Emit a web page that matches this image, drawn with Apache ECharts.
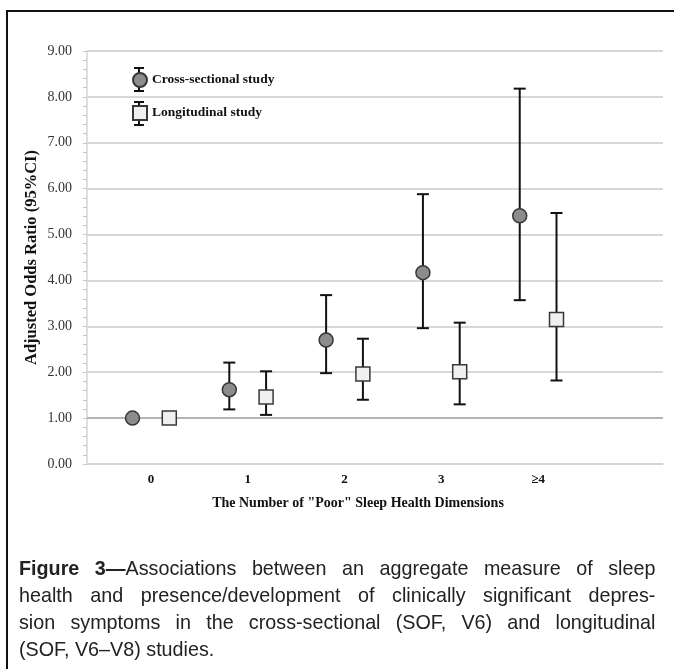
<!DOCTYPE html>
<html>
<head>
<meta charset="utf-8">
<title>Figure 3</title>
<script src="https://cdn.jsdelivr.net/npm/echarts@6/dist/echarts.min.js"></script>
<style>
  html, body { margin: 0; padding: 0; background: #fff; }
  #wrap { position: relative; width: 674px; height: 669px; overflow: hidden; }
  #chart { position: absolute; left: 0; top: 0; width: 674px; height: 669px; }
  #frame { position: absolute; left: 6px; top: 10px; width: 720px; height: 720px;
    border-left: 2px solid #111; border-top: 2px solid #111; }
  /* narrow look of the journal caption: plain sans squeezed horizontally */
  #caption { position: absolute; left: 19px; top: 554px; width: 677px;
    transform: scaleX(0.94); transform-origin: 0 0;
    font-family: "Liberation Sans", Arial, sans-serif; font-size: 21px; line-height: 27px; color: #222; }
  #caption div { text-align: justify; text-align-last: justify; white-space: nowrap; }
  #caption div.last { text-align-last: left; }
</style>
</head>
<body>
<div id="wrap">
  <div id="frame"></div>
  <div id="chart"></div>
  <div id="caption">
    <div><b>Figure 3—</b>Associations between an aggregate measure of sleep</div>
    <div>health and presence/development of clinically significant depres-</div>
    <div>sion symptoms in the cross-sectional (SOF, V6) and longitudinal</div>
    <div class="last">(SOF, V6–V8) studies.</div>
  </div>
</div>
<script>
// number of "poor" sleep health dimensions
const categories = ['0', '1', '2', '3', '≥4'];

// cross-sectional study: odds ratio and 95% CI
const crossOR = [1.00, 1.62, 2.70, 4.17, 5.41];
const crossLow = [null, 1.19, 1.98, 2.96, 3.57];
const crossHigh = [null, 2.21, 3.68, 5.88, 8.18];

// longitudinal study: odds ratio and 95% CI
const longOR = [1.00, 1.46, 1.96, 2.01, 3.15];
const longLow = [null, 1.07, 1.40, 1.30, 1.82];
const longHigh = [null, 2.02, 2.73, 3.08, 5.47];

const yTicks = [0, 1, 2, 3, 4, 5, 6, 7, 8, 9];

const SHIFT = 0.19; // dodge of the two studies inside one category
const serif = '"Liberation Serif", "Times New Roman", serif';

function points(vals, dx) {
  return vals.map((v, i) => [i + dx, v]);
}
function bars(lo, hi, dx) {
  const out = [];
  lo.forEach((l, i) => {
    if (l != null) out.push([i + dx, l, hi[i]]);
  });
  return out;
}

function renderBar(params, api) {
  const x = api.value(0);
  const top = api.coord([x, api.value(2)]);
  const bot = api.coord([x, api.value(1)]);
  const cap = 6;
  const style = { stroke: '#111', lineWidth: 2, fill: null };
  return {
    type: 'group',
    children: [
      { type: 'line', shape: { x1: top[0], y1: top[1], x2: bot[0], y2: bot[1] }, style },
      { type: 'line', shape: { x1: top[0] - cap, y1: top[1], x2: top[0] + cap, y2: top[1] }, style },
      { type: 'line', shape: { x1: bot[0] - cap, y1: bot[1], x2: bot[0] + cap, y2: bot[1] }, style },
    ],
  };
}

// whiskers drawn behind the legend symbols
function legendWhisker(cx, y1, y2) {
  const s = { stroke: '#111', lineWidth: 2 };
  return [
    { type: 'line', z: 3, shape: { x1: cx, y1, x2: cx, y2 }, style: s },
    { type: 'line', z: 3, shape: { x1: cx - 5, y1, x2: cx + 5, y2: y1 }, style: s },
    { type: 'line', z: 3, shape: { x1: cx - 5, y1: y2, x2: cx + 5, y2 }, style: s },
  ];
}

const chart = echarts.init(document.getElementById('chart'));

chart.setOption({
  animation: false,
  grid: { left: 87, top: 51, right: 11, bottom: 205 },
  legend: {
    data: ['Cross-sectional study', 'Longitudinal study'],
    orient: 'vertical',
    left: 127,
    top: 67,
    padding: 5,
    itemWidth: 14,
    itemHeight: 14,
    itemGap: 17,
    textStyle: { fontFamily: serif, fontWeight: 'bold', fontSize: 13.5, color: '#111' },
  },
  graphic: [
    ...legendWhisker(139, 68, 91),
    ...legendWhisker(139, 102, 125),
  ],
  xAxis: {
    type: 'value',
    min: -0.66,
    max: 5.29,
    name: 'The Number of "Poor" Sleep Health Dimensions',
    nameLocation: 'middle',
    nameGap: 32,
    nameTextStyle: { fontFamily: serif, fontWeight: 'bold', fontSize: 14, color: '#111', padding: [0, 34, 0, 0] },
    axisLine: { show: true, onZero: false, lineStyle: { color: '#d4d4d4', width: 1.5 } },
    axisTick: { show: false },
    splitLine: { show: false },
    axisLabel: {
      customValues: [0, 1, 2, 3, 4],
      formatter: (v) => categories[Math.round(v)],
      fontFamily: serif,
      fontWeight: 'bold',
      fontSize: 13,
      color: '#111',
      margin: 9,
    },
  },
  yAxis: {
    type: 'value',
    min: yTicks[0],
    max: yTicks[yTicks.length - 1],
    interval: 1,
    name: 'Adjusted Odds Ratio (95%CI)',
    nameLocation: 'middle',
    nameGap: 47,
    nameMoveOverlap: false,
    nameTextStyle: { fontFamily: serif, fontWeight: 'bold', fontSize: 16.5, color: '#111' },
    axisLine: { show: true, onZero: false, lineStyle: { color: '#d4d4d4', width: 1.5 } },
    axisTick: { show: true, length: 4, lineStyle: { color: '#c8c8c8' } },
    minorTick: { show: true, splitNumber: 5, length: 4, lineStyle: { color: '#c8c8c8' } },
    splitLine: { show: true, lineStyle: { color: '#cbcbcb', width: 1.5 } },
    axisLabel: {
      formatter: (v) => v.toFixed(2),
      fontFamily: serif,
      fontSize: 14,
      color: '#333',
      margin: 15,
    },
  },
  series: [
    {
      name: 'crossCI',
      type: 'custom',
      renderItem: renderBar,
      data: bars(crossLow, crossHigh, -SHIFT),
      z: 2,
    },
    {
      name: 'longCI',
      type: 'custom',
      renderItem: renderBar,
      data: bars(longLow, longHigh, SHIFT),
      z: 2,
    },
    {
      name: 'Cross-sectional study',
      type: 'scatter',
      symbol: 'circle',
      symbolSize: 14,
      itemStyle: { color: '#8c8c8c', borderColor: '#383838', borderWidth: 1.5, opacity: 1 },
      data: points(crossOR, -SHIFT),
      z: 5,
      markLine: {
        silent: true,
        symbol: 'none',
        label: { show: false },
        lineStyle: { color: '#a8a8a8', width: 1.5, type: 'solid' },
        data: [{ yAxis: 1 }],
      },
    },
    {
      name: 'Longitudinal study',
      type: 'scatter',
      symbol: 'rect',
      symbolSize: 14,
      itemStyle: { color: '#f0f0f0', borderColor: '#383838', borderWidth: 1.5, opacity: 1 },
      data: points(longOR, SHIFT),
      z: 5,
    },
  ],
});
</script>
</body>
</html>
